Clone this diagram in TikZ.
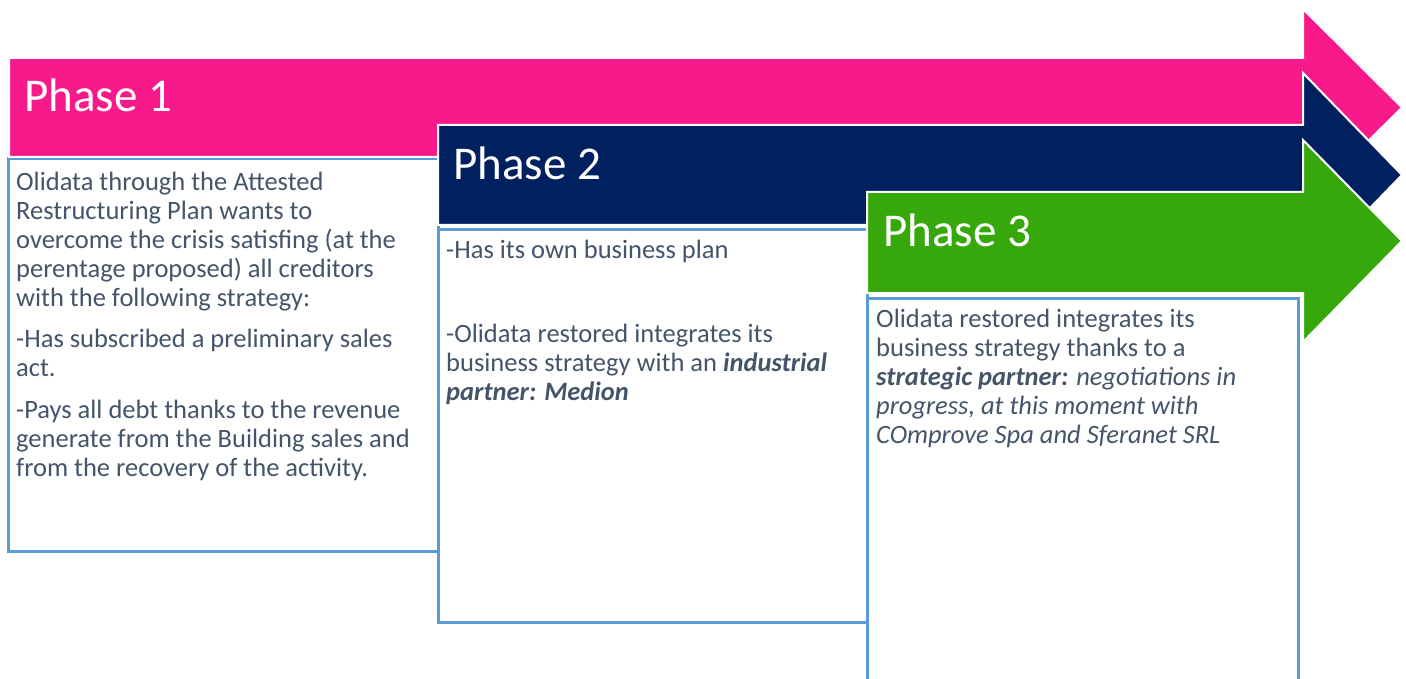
\documentclass[tikz,border=0pt]{standalone}
\usepackage{fontspec}
\setmainfont{Carlito}
\definecolor{phasepink}{HTML}{F81A8A}
\definecolor{phasenavy}{HTML}{002060}
\definecolor{phasegreen}{HTML}{37A80B}
\definecolor{bodytext}{HTML}{44546A}
\definecolor{boxline}{HTML}{5B9BD5}
\begin{document}
\begin{tikzpicture}[x=1pt,y=-1pt,
  arrowshape/.style={draw=white,line width=2pt,line join=miter},
  textbox/.style={draw=boxline,line width=3pt,fill=white},
  phasetitle/.style={anchor=base west,inner sep=0pt,text=white,
    font=\fontsize{47}{56}\selectfont},
  % paragraphs are placed by the baseline of their last line
  bodypara/.style={anchor=base west,inner sep=0pt,align=left,text=bodytext,
    font=\fontsize{26.5}{29}\selectfont}]
\useasboundingbox (0,0) rectangle (1406,679);

% content boxes below each phase bar
\draw[textbox] (8,159) rectangle (438,551);
\draw[textbox] (438,230) rectangle (867,622);
\draw[textbox] (867,298) rectangle (1298,700);

% phase arrows, later ones lying over earlier ones
\filldraw[arrowshape,fill=phasepink]
  (9,58) -- (1303,58) -- (1303,9) -- (1402,107.5) -- (1303,206) -- (1303,157) -- (9,157) -- cycle;
\filldraw[arrowshape,fill=phasenavy]
  (438,125) -- (1303,125) -- (1303,73) -- (1402,175) -- (1303,277) -- (1303,225) -- (438,225) -- cycle;
\filldraw[arrowshape,fill=phasegreen]
  (867,192) -- (1303,192) -- (1303,140) -- (1402,241) -- (1303,342) -- (1303,293) -- (867,293) -- cycle;

% phase titles
\node[phasetitle] (t1) at (24,112) {Phase 1};
\node[phasetitle] (t2) at (453,180) {Phase 2};
\node[phasetitle] (t3) at (883,247) {Phase 3};

% box texts
\node[bodypara] (p1) at (16,476) {Olidata through the Attested\\
Restructuring Plan wants to\\
overcome the crisis satisfing (at the\\
perentage proposed) all creditors\\
with the following strategy:\\[12pt]
-Has subscribed a preliminary sales\\
act.\\[13pt]
-Pays all debt thanks to the revenue\\
generate from the Building sales and\\
from the recovery of the activity.};

\node[bodypara] (p2) at (446,400) {-Has its own business plan\\[55pt]
-Olidata restored integrates its\\
business strategy with an \textbf{\textit{industrial}}\\
\textbf{\textit{partner: Medion}}};

\node[bodypara] (p3) at (876,443) {Olidata restored integrates its\\
business strategy thanks to a\\
\textbf{\textit{strategic partner:}} \textit{negotiations in}\\
\textit{progress, at this moment with}\\
\textit{COmprove Spa and Sferanet SRL}};
\end{tikzpicture}
\end{document}
